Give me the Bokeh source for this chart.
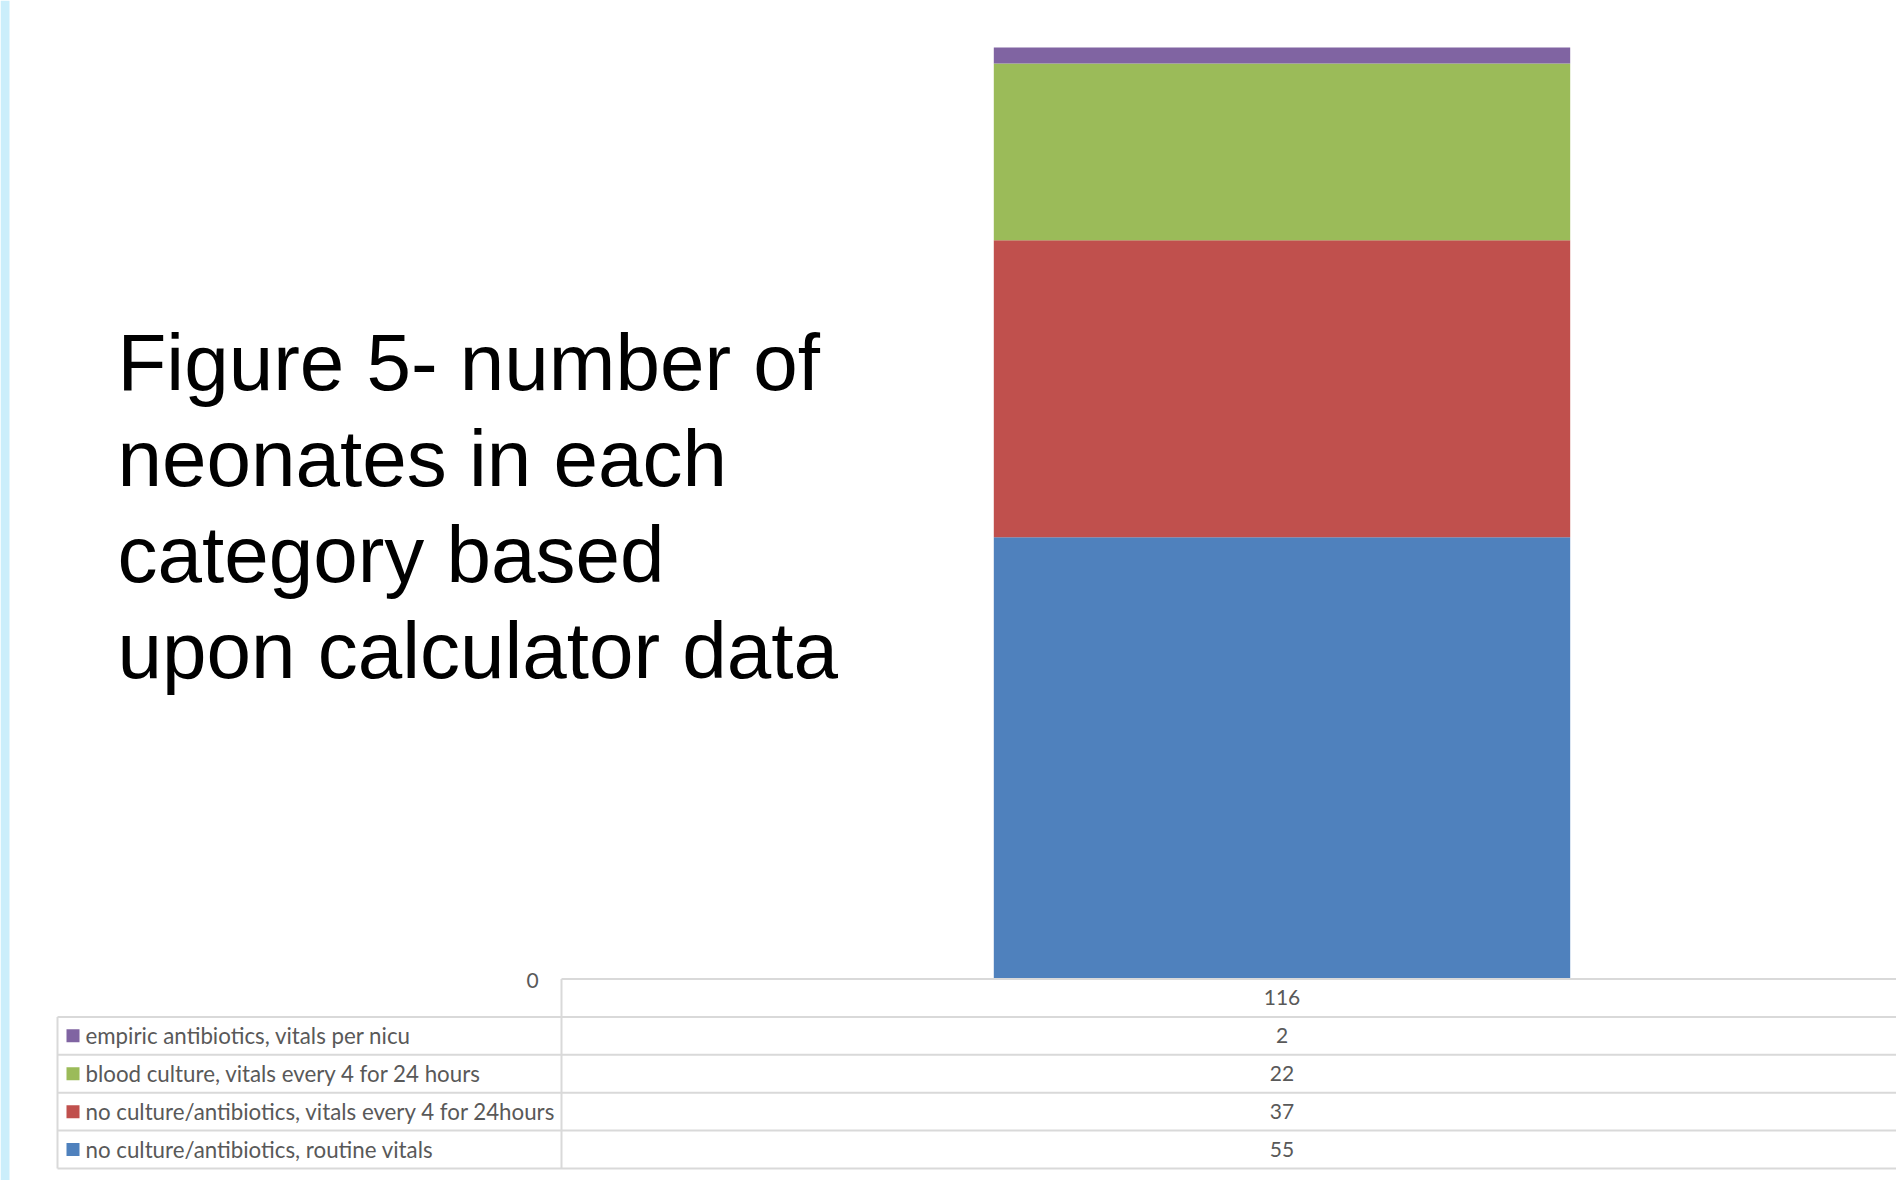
import numpy as np
from bokeh.plotting import figure
from bokeh.models import Range1d
from bokeh.core.properties import value
from bokeh.embed import file_html
from bokeh.resources import INLINE

# ---------------- data ----------------
categories = ["116"]
series_names = [
    "no culture/antibiotics, routine vitals",
    "no culture/antibiotics, vitals every 4 for 24hours",
    "blood culture, vitals every 4 for 24 hours",
    "empiric antibiotics, vitals per nicu",
]
series_values = [55, 37, 22, 2]
series_colors = ["#4F81BD", "#C0504D", "#9BBB59", "#8064A2"]
y_tick_values = [0]
y_tick_labels = ["0"]
title_lines = [
    "Figure 5- number of",
    "neonates in each",
    "category based",
    "upon calculator data",
]

# ---------------- layout (pixels) ----------------
W, H = 1896, 1180
plot_left = 561.0      # left edge of the plot area
axis_y = 978.5         # pixel of value 0
top_px = 47.0          # pixel of the stack total
cat_px = 1441.0        # pixels per category
cat_center = 0.5
bar_width = 0.4
table_left = 57.0
row_h = 37.9
grid_color = "#D9D9D9"
text_color = "#595959"

total = float(sum(series_values))
k = (axis_y - top_px) / total

p = figure(
    width=W, height=H,
    x_range=Range1d(-plot_left / cat_px, (W - plot_left) / cat_px),
    y_range=Range1d(-(H - axis_y) / k, axis_y / k),
    output_backend="svg", toolbar_location=None,
    x_axis_location=None, y_axis_location=None,
    min_border=0,
)
p.extra_x_ranges = {"px": Range1d(0, W)}
p.extra_y_ranges = {"px": Range1d(H, 0)}
p.grid.visible = False
p.outline_line_color = None
p.background_fill_color = "white"
p.border_fill_color = "white"

# left decorative strip
p.quad(left=[0], right=[9], bottom=[H], top=[0], color="#CBEEFB", line_color=None,
       x_range_name="px", y_range_name="px")

# stacked bar
vals = np.array(series_values, dtype=float)
tops = np.cumsum(vals)
bottoms = tops - vals
p.vbar(x=[cat_center] * len(vals), bottom=bottoms, top=tops, width=bar_width,
       fill_color=series_colors, line_color=None)

# data table grid
n_rows = len(series_values) + 1
row_lines = [axis_y + i * row_h for i in range(n_rows + 1)]
x0s = [plot_left] + [table_left] * n_rows
x1s = [W] * (n_rows + 1)
p.segment(x0=x0s, y0=row_lines, x1=x1s, y1=row_lines, line_color=grid_color,
          line_width=2, x_range_name="px", y_range_name="px")
p.segment(x0=[plot_left, table_left], y0=[axis_y, axis_y + row_h],
          x1=[plot_left, table_left], y1=[row_lines[-1], row_lines[-1]],
          line_color=grid_color, line_width=2, x_range_name="px", y_range_name="px")

# y tick label "0"
p.text(x=[plot_left - 29] * len(y_tick_values),
       y=[axis_y + 1 - k * v for v in y_tick_values],
       text=y_tick_labels, text_font=value("Lato"), text_font_size="21px",
       text_color=text_color, text_align="center", text_baseline="middle",
       x_range_name="px", y_range_name="px")

# category row
p.text(x=[cat_center], y=[axis_y + 0.5 * row_h], text=categories,
       text_font=value("Lato"), text_font_size="21px", text_color=text_color,
       text_align="center", text_baseline="middle", y_range_name="px")

# series rows (top row = last series)
order = list(range(len(series_values)))[::-1]
row_centers = [axis_y + (j + 1.5) * row_h for j in range(len(order))]
p.text(x=[cat_center] * len(order), y=row_centers,
       text=[str(series_values[i]) for i in order],
       text_font=value("Lato"), text_font_size="21px", text_color=text_color,
       text_align="center", text_baseline="middle", y_range_name="px")
p.rect(x=[72.5] * len(order), y=row_centers, width=13, height=13,
       fill_color=[series_colors[i] for i in order], line_color=None,
       x_range_name="px", y_range_name="px")
p.text(x=[85] * len(order), y=row_centers,
       text=[series_names[i] for i in order],
       text_font=value("Lato"), text_font_size="22.3px", text_color=text_color,
       text_align="left", text_baseline="middle",
       x_range_name="px", y_range_name="px")

# title block
baselines = [362 + i * 96 for i in range(len(title_lines))]
p.text(x=[117] * len(title_lines), y=baselines, text=title_lines,
       text_font=value("Liberation Sans"), text_font_size="80px",
       text_color="black", text_align="left", text_baseline="alphabetic",
       x_range_name="px", y_range_name="px")

open("out.html", "w").write(file_html(p, INLINE))
